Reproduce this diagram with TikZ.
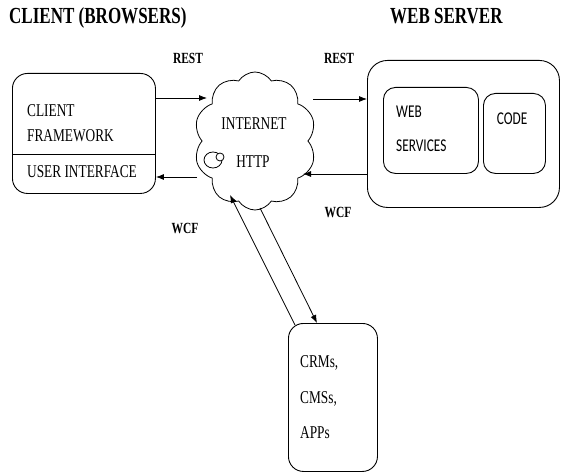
\documentclass[tikz,border=0pt]{standalone}
\usepackage{fontspec}
\setmainfont[FakeStretch=0.74]{Liberation Serif}
\newfontfamily\calfont[FakeStretch=0.74]{Carlito}
\usetikzlibrary{shapes.symbols,arrows.meta}
\begin{document}
\begin{tikzpicture}[x=1pt,y=-1pt,
  box/.style={draw,line width=0.9pt,rounded corners=#1,inner sep=0pt,anchor=north west},
  box/.default=15pt,
  conn/.style={line width=0.8pt},
  arr/.style={line width=0.8pt,-{Latex[length=8pt,width=6pt]}},
  title/.style={font=\fontsize{23}{26}\selectfont\bfseries,anchor=base west,inner sep=0pt},
  lbl/.style={font=\fontsize{15.5}{18}\selectfont\bfseries,anchor=base,inner sep=0pt},
  txt/.style={font=\fontsize{18}{20}\selectfont,anchor=base west,inner sep=0pt},
  ctxt/.style={font=\fontsize{18}{20}\selectfont,anchor=base,inner sep=0pt},
  stxt/.style={font=\calfont\fontsize{18}{20}\selectfont,anchor=base west,inner sep=0pt}]
\useasboundingbox (0,0) rectangle (561,473);
% titles
\node[title] (t1) at (9,24) {CLIENT (BROWSERS)};
\node[title] (t2) at (390,24) {WEB SERVER};
% client box
\node[box, minimum width=143pt, minimum height=120pt] (client) at (12,73) {};
\coordinate (div) at (0,154);
\draw[conn] (client.west |- div) -- (client.east |- div);
\node[txt] (cl1) at (27,117) {CLIENT};
\node[txt] (cl2) at (27,142) {FRAMEWORK};
\node[txt] (cl3) at (27,177) {USER INTERFACE};
% cloud
\node[cloud, draw, line width=0.8pt, cloud puffs=10, cloud puff arc=115, aspect=0.85,
      minimum width=122pt, minimum height=138pt, inner sep=0pt] (cloud) at (255,141) {};
\node[ctxt] (in1) at (254,130) {INTERNET};
\node[ctxt] (in2) at (253,167) {HTTP};
\draw[line width=0.8pt, fill=white] (213,160) ellipse [x radius=9pt, y radius=8pt];
\draw[line width=0.8pt, fill=white] (220,157) circle [radius=4pt];
% server
\node[box=20pt, minimum width=192pt, minimum height=147pt] (server) at (367,60) {};
\node[box=12pt, minimum width=95pt, minimum height=86pt] (ws) at (383,87) {};
\node[box=12pt, minimum width=62pt, minimum height=80pt] (code) at (483,93) {};
\node[stxt] (ws1) at (396,118) {WEB};
\node[stxt] (ws2) at (396,151) {SERVICES};
\node[stxt, anchor=base] (cd) at (512,125) {CODE};
% bottom box
\node[box, minimum width=89pt, minimum height=148pt] (crm) at (288,323) {};
\node[txt] (cr1) at (300,367) {CRMs,};
\node[txt] (cr2) at (300,403) {CMSs,};
\node[txt] (cr3) at (300,438) {APPs};
% labels
\node[lbl] (rest1) at (188,64) {REST};
\node[lbl] (rest2) at (339,64) {REST};
\node[lbl] (wcf1) at (185,233) {WCF};
\node[lbl] (wcf2) at (338,217) {WCF};
% connection points on cloud
\coordinate (cA) at (207,98);
\coordinate (cB) at (197,177);
\coordinate (cC) at (313,99);
\coordinate (cD) at (303,174);
\coordinate (cE) at (230,195);
\coordinate (cF) at (260,208);
% arrows
\draw[arr] (client.east |- cA) -- (cA);
\draw[arr] (cB) -- (client.east |- cB);
\draw[arr] (cC) -- (server.west |- cC);
\draw[arr] (server.west |- cD) -- (cD);
\draw[arr] ([xshift=7pt,yshift=-2pt]crm.north west) -- (cE);
\draw[arr] (cF) -- ([xshift=29pt]crm.north west);
\end{tikzpicture}
\end{document}
